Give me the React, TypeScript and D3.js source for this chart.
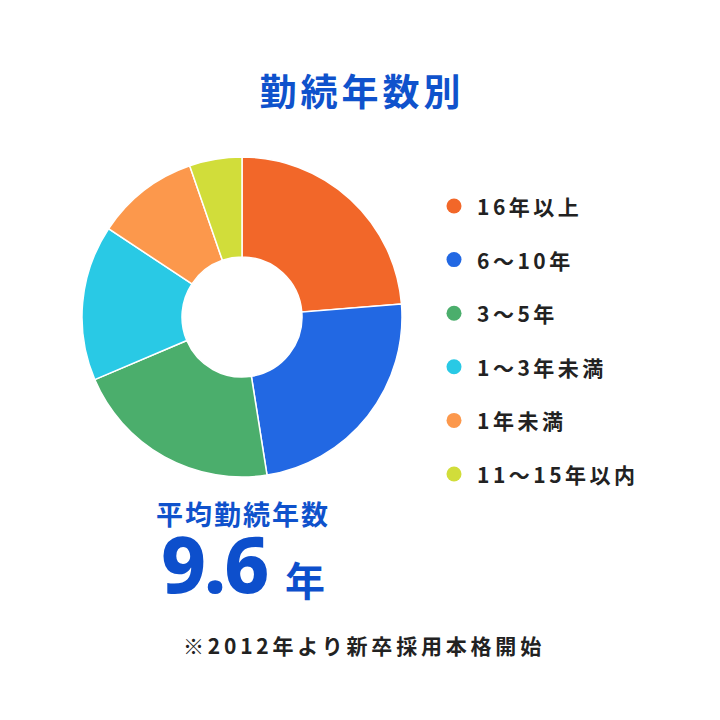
import React, { useEffect } from 'react'
import * as d3 from 'd3'

const categories = ['16年以上', '6〜10年', '3〜5年', '1〜3年未満', '1年未満', '11〜15年以内']
const shares = [23.7, 23.8, 21.1, 15.7, 10.4, 5.3]
const colors = ['#F26729', '#2268E3', '#4BAE6C', '#29C9E5', '#FC984C', '#D1DD3A']

const title = '勤続年数別'
const avgLabel = '平均勤続年数'
const avgValue = '9.6'
const avgUnit = '年'
const note = '※2012年より新卒採用本格開始'

const W = 720
const H = 720
const cx = 242
const cy = 317
const outerR = 160
const innerR = 60
const jp = '"Noto Sans CJK JP", "Noto Sans", sans-serif'

const App: React.FC = () => {
  useEffect(() => {
    document.body.style.margin = '0'
  }, [])

  const pie = d3
    .pie<number>()
    .sort(null)
    .value((d) => d)
  const arcs = pie(shares)
  const arc = d3.arc<d3.PieArcDatum<number>>().innerRadius(innerR).outerRadius(outerR)

  const legendY = d3.scalePoint<string>().domain(categories).range([206, 474])

  return (
    <svg width={W} height={H} style={{ display: 'block', background: '#fff' }}>
      <text
        x={360 + 2}
        y={90}
        textAnchor="middle"
        dominantBaseline="central"
        fontFamily={jp}
        fontWeight={700}
        fontSize={37}
        letterSpacing={4}
        fill="#0F52CC"
      >
        {title}
      </text>

      <g transform={`translate(${cx},${cy})`}>
        {arcs.map((a, i) => (
          <path key={categories[i]} d={arc(a) || ''} fill={colors[i]} stroke="#fff" strokeWidth={1.5} />
        ))}
      </g>

      <g>
        {categories.map((c, i) => (
          <g key={c} transform={`translate(0,${legendY(c)})`}>
            <circle cx={454} cy={0} r={7.5} fill={colors[i]} />
            <text
              x={477}
              y={0}
              dominantBaseline="central"
              fontFamily={jp}
              fontWeight={700}
              fontSize={21}
              letterSpacing={3.5}
              fill="#222"
            >
              {c}
            </text>
          </g>
        ))}
      </g>

      <text
        x={156}
        y={513}
        dominantBaseline="central"
        fontFamily={jp}
        fontWeight={700}
        fontSize={27}
        letterSpacing={2}
        fill="#0F52CC"
      >
        {avgLabel}
      </text>
      <text
        x={161}
        y={593}
        fontFamily='"Noto Sans", sans-serif'
        fontWeight={800}
        fontSize={78}
        letterSpacing={-2}
        fill="#0D4FCC"
      >
        {avgValue}
      </text>
      <text
        x={285}
        y={579}
        dominantBaseline="central"
        fontFamily={jp}
        fontWeight={700}
        fontSize={40}
        fill="#0D4FCC"
      >
        {avgUnit}
      </text>

      <text
        x={183}
        y={645}
        dominantBaseline="central"
        fontFamily={jp}
        fontWeight={700}
        fontSize={21}
        letterSpacing={3.8}
        fill="#222"
      >
        {note}
      </text>
    </svg>
  )
}

export default App
